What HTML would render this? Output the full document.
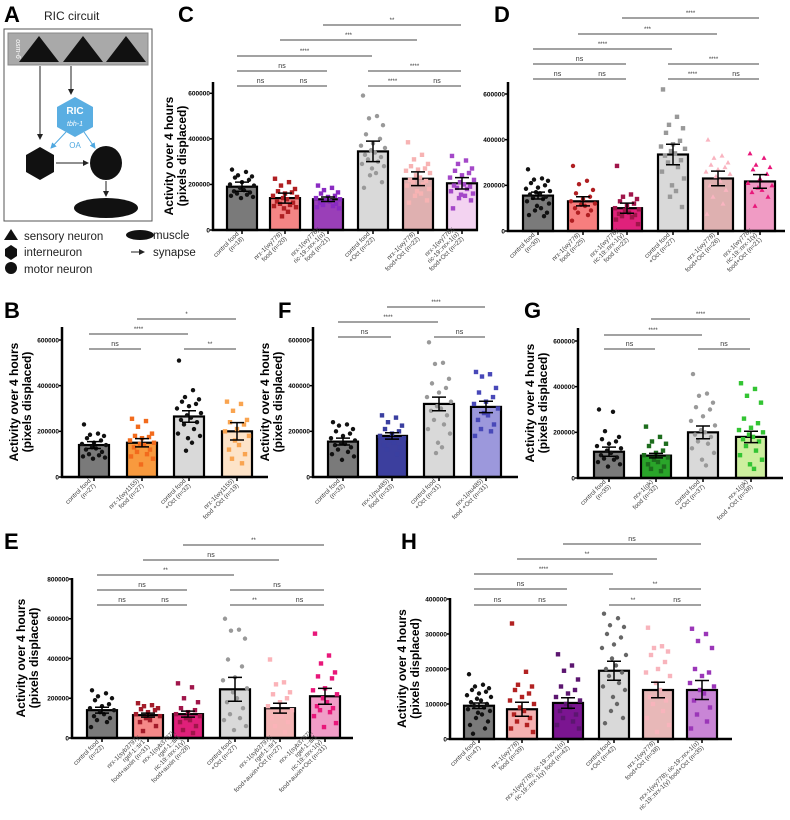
<!DOCTYPE html>
<html><head><meta charset="utf-8">
<style>
html,body{margin:0;padding:0;background:#fff;}
svg{display:block;font-family:"Liberation Sans",sans-serif;}
</style></head>
<body>
<svg id="fig" width="790" height="820" viewBox="0 0 790 820" xmlns="http://www.w3.org/2000/svg">
<g>
  <text x="4" y="22" font-size="22" font-weight="bold">A</text>
  <text x="44" y="20" font-size="12" fill="#222">RIC circuit</text>
  <rect x="4" y="29" width="148" height="192" fill="#fff" stroke="#555" stroke-width="1"/>
  <rect x="8" y="33" width="140" height="32" fill="#a9a9a9" stroke="#888"/>
  <text transform="translate(16,49) rotate(90)" text-anchor="middle" font-size="7" font-style="italic" fill="#fff">osm-6</text>
  <polygon points="19,62 39,36 59,62" fill="#111"/>
  <polygon points="63,62 83,36 103,62" fill="#111"/>
  <polygon points="106,62 126,36 146,62" fill="#111"/>
  <defs>
    <marker id="ab" markerWidth="6" markerHeight="6" refX="5" refY="3" orient="auto"><path d="M0,0 L6,3 L0,6 z" fill="#222"/></marker>
    <marker id="abl" markerWidth="6" markerHeight="6" refX="5" refY="3" orient="auto"><path d="M0,0 L6,3 L0,6 z" fill="#4fa8e0"/></marker>
  </defs>
  <line x1="40" y1="66" x2="40" y2="139" stroke="#222" stroke-width="1" marker-end="url(#ab)"/>
  <line x1="71" y1="66" x2="71" y2="94" stroke="#222" stroke-width="1" marker-end="url(#ab)"/>
  <polygon points="75,97 93,107 93,127 75,137 57,127 57,107" fill="#5aaee2"/>
  <text x="75" y="114" text-anchor="middle" font-size="10" font-weight="bold" fill="#fff">RIC</text>
  <text x="75" y="126" text-anchor="middle" font-size="7" font-style="italic" fill="#fff">tbh-1</text>
  <line x1="66" y1="132" x2="51" y2="148" stroke="#4fa8e0" stroke-width="1" marker-end="url(#abl)"/>
  <line x1="84" y1="132" x2="95" y2="148" stroke="#4fa8e0" stroke-width="1" marker-end="url(#abl)"/>
  <text x="75" y="148" text-anchor="middle" font-size="8" fill="#4fa8e0">OA</text>
  <polygon points="40,147 54,155 54,172 40,180 26,172 26,155" fill="#111"/>
  <ellipse cx="106" cy="163" rx="16" ry="17" fill="#111"/>
  <line x1="56" y1="163" x2="88" y2="163" stroke="#222" stroke-width="1" marker-end="url(#ab)"/>
  <line x1="106" y1="181" x2="106" y2="196" stroke="#222" stroke-width="1" marker-end="url(#ab)"/>
  <ellipse cx="106" cy="208" rx="32" ry="10" fill="#111"/>
  <g font-size="11.5" fill="#222">
    <polygon points="4,240 11,229 18,240" fill="#111"/><text x="24" y="240">sensory neuron</text>
    <polygon points="11,245 17,249 17,256 11,260 5,256 5,249" fill="#111"/><text x="24" y="256">interneuron</text>
    <circle cx="11" cy="268" r="6" fill="#111"/><text x="24" y="273">motor neuron</text>
    <ellipse cx="140" cy="235" rx="14" ry="5" fill="#111"/><text x="153" y="239">muscle</text>
    <line x1="131" y1="252" x2="144" y2="252" stroke="#222" marker-end="url(#ab)"/><text x="153" y="256">synapse</text>
  </g>
</g>
<g id="charts"></g>
</svg>
<script>
// ===== Panel C =====
const cCats=["control food\n(n=18)","nrx-1(wy778)\nfood (n=20)","nrx-1(wy778);\nric-19::nrx-1(α)\nfood (n=21)","control food\n+Oct (n=22)","nrx-1(wy778)\nfood+Oct (n=22)","nrx-1(wy778);\nric-19::nrx-1(α)\nfood+Oct (n=22)"];
const cMeans=[190000,140000,135000,345000,225000,205000];
const cSem=[20000,22000,10000,45000,30000,25000];
const cPoints=[[265,255,240,235,230,220,210,200,195,185,175,170,165,160,155,150,145,140],[225,210,195,180,170,165,160,150,145,140,135,125,120,115,110,105,100,95,80,60],[195,185,175,165,160,150,145,140,135,130,125,120,115,110,105,100,95],[590,500,490,460,420,400,380,370,360,350,340,330,320,310,300,290,280,270,250,240,210,185],[385,330,310,290,280,270,265,260,250,240,230,220,215,210,200,195,180,170,160,150,130,120],[325,305,290,270,260,250,240,230,220,210,200,195,190,185,180,170,160,155,150,140,130,95]];
const cTicks=[0,200000,400000,600000];
// ===== Panel D =====
const dCats=["control food\n(n=30)","nrx-1(wy778)\nfood (n=25)","nrx-1(wy778);\nric-19::nrx-1(γ)\nfood (n=22)","control food\n+Oct (n=27)","nrx-1(wy778)\nfood+Oct (n=26)","nrx-1(wy778);\nric-19::nrx-1(γ)\nfood+Oct (n=21)"];
const dMeans=[155000,130000,100000,335000,230000,217000];
const dSem=[15000,20000,22000,45000,32000,30000];
const dPoints=[[270,230,225,220,210,200,190,185,175,170,165,160,150,145,140,130,120,110,100,90,80,70,65],[285,220,205,180,165,150,140,130,120,115,110,100,90,80,70,45],[285,160,150,140,130,120,110,100,95,90,80,75,70,65,60,50,30],[620,500,465,450,430,395,380,370,360,350,340,330,310,300,280,260,230,200,175,150,105],[400,330,320,300,290,280,270,260,250,240,220,200,180,150,120,75],[340,320,290,280,270,250,230,210,200,190,180,170,150,110]];
const dTicks=[0,200000,400000,600000];
// ===== Panel B =====
const bCats=["control food\n(n=27)","nrx-1(wy1155)\nfood (n=27)","control food\n+Oct (n=32)","nrx-1(wy1155)\nfood +Oct (n=19)"];
const bMeans=[140000,150000,265000,200000];
const bSem=[15000,18000,25000,38000];
const bPoints=[[230,190,185,180,170,160,150,145,140,130,125,120,110,100,95,90,85,80],[255,245,220,190,180,175,170,160,150,145,140,130,120,110,100,90,80,55],[510,380,350,340,330,320,310,300,280,270,260,250,240,230,210,190,180,170,150,115],[330,320,290,250,240,230,210,200,180,160,140,120,100,80,60]];
const bTicks=[0,200000,400000,600000];
// ===== Panel F =====
const fCats=["control food\n(n=32)","nrx-1(nu485)\nfood (n=33)","control food\n+Oct (n=31)","nrx-1(nu485)\nfood +Oct (n=31)"];
const fMeans=[155000,180000,320000,307000];
const fSem=[15000,14000,30000,25000];
const fPoints=[[240,230,225,210,200,190,180,170,160,150,145,140,130,120,110,100,90,75],[270,260,240,225,210,200,190,180,170,160,150,140,130,120,100],[590,500,495,430,410,390,370,350,330,310,300,290,270,250,230,210,190,150,130,105],[460,450,440,390,370,350,330,320,300,280,270,250,230,210,200,180]];
const fTicks=[0,200000,400000,600000];
// ===== Panel G =====
const gCats=["control food\n(n=35)","nrx-1(gk)\nfood (n=32)","control food\n+Oct (n=37)","nrx-1(gk)\nfood +Oct (n=38)"];
const gMeans=[115000,98000,200000,180000];
const gSem=[20000,10000,28000,25000];
const gPoints=[[300,290,205,180,170,160,150,140,130,120,110,100,90,85,80,70,60,50],[225,180,160,150,140,120,110,100,90,80,70,60,50,40,30],[455,370,360,330,310,300,270,250,230,210,200,190,180,160,150,130,110,80,55],[415,390,360,330,260,240,220,210,200,190,180,170,160,140,120,100,80,60,40]];
const gTicks=[0,200000,400000,600000];
// ===== Panel E =====
const eCats=["control food\n(n=22)","nrx-1(syb3797);\nrgef-1::tir1\nfood+auxin (n=31)","nrx-1(syb3797);\nrgef-1::tir1\nric-19::nrx-1(γ)\nfood+auxin (n=28)","control food\n+Oct (n=27)","nrx-1(syb3797);\nrgef-1::tir1\nfood+auxin+Oct (n=27)","nrx-1(syb3797);\nrgef-1::tir1\nric-19::nrx-1(γ)\nfood+auxin+Oct (n=31)"];
const eMeans=[140000,115000,120000,245000,150000,210000];
const eSem=[15000,10000,15000,60000,25000,40000];
const ePoints=[[240,225,210,200,190,170,160,150,140,130,120,110,100,90,80,55],[175,165,160,150,145,140,130,120,110,100,90,80,60,35],[275,255,200,180,150,140,130,120,110,100,90,80,60,40,25],[600,545,540,500,395,360,305,290,250,230,200,180,150,120,100,90,60,40],[395,280,270,230,220,200,180,160,140,120,110,100,80,60,30],[525,415,375,330,310,300,250,240,220,200,180,160,150,140,130,110,75,55]];
const eTicks=[0,200000,400000,600000,800000];
// ===== Panel H =====
const hCats=["control food\n(n=47)","nrx-1(wy778)\nfood (n=39)","nrx-1(wy778); ric-19::nrx-1(α)\nric-19::nrx-1(γ) food (n=42)","control food\n+Oct (n=42)","nrx-1(wy778)\nfood+Oct (n=38)","nrx-1(wy778); ric-19::nrx-1(α)\nric-19::nrx-1(γ) food+Oct (n=35)"];
const hMeans=[95000,85000,103000,195000,140000,140000];
const hSem=[8000,20000,15000,27000,22000,27000];
const hPoints=[[185,155,150,145,140,135,130,125,120,115,110,105,100,95,90,85,80,75,70,60,50,40,30,15],[330,192,155,150,140,130,120,110,100,90,80,70,60,50,40,30,20],[242,210,195,170,150,140,130,120,110,100,90,80,70,60,50,40,30],[358,345,325,320,300,290,270,260,240,230,210,200,190,180,160,150,140,120,100,80,60,45],[318,265,260,250,240,220,200,190,180,160,140,120,110,100,80,60,40,20],[315,300,280,260,200,190,180,160,150,140,130,110,90,70,50,30]];
const hTicks=[0,100000,200000,300000,400000];

const NS="http://www.w3.org/2000/svg";
const root=document.getElementById('charts');
function el(tag,attrs,parent){const e=document.createElementNS(NS,tag);for(const k in attrs)e.setAttribute(k,attrs[k]);(parent||root).appendChild(e);return e;}
const jit=[-10,4,-4,10,-7,7,0,-12,12,-2,2,-8,8,-5,5,-11,11,-1,3,-3,9,-9,6,-6];

function panel(cfg){
  const g=el('g',{});
  
  
  const y=v=>cfg.y0-(v/cfg.max)*(cfg.y0-cfg.yTop);
  const lt=el('text',{x:cfg.lx,y:cfg.ly,'font-size':22,'font-weight':'bold'},g);lt.textContent=cfg.id.toUpperCase();
  
  
  if(!cfg.noTitle){
    const tcY=(cfg.y0+cfg.axTop)/2, tx=cfg.ax-cfg.titleOff;
    const yt=el('text',{transform:`translate(${tx},${tcY}) rotate(-90)`,'text-anchor':'middle','font-size':12,'font-weight':'bold'},g);
    
    
    const t1=el('tspan',{x:0,dy:-2},yt);t1.textContent='Activity over 4 hours';
    const t2=el('tspan',{x:0,dy:13},yt);t2.textContent='(pixels displaced)';
  }
  cfg.means.forEach((m,i)=>{
    const cx=cfg.xs[i];
    const b=el('rect',{x:cx-cfg.bw/2,y:y(m),width:cfg.bw,height:cfg.y0-y(m),fill:cfg.fills[i],stroke:'#000','stroke-width':2.2},g);
    
    
  });
  cfg.pts.forEach((arr,i)=>{
    const cx=cfg.xs[i],col=cfg.pcol[i],sh=cfg.shapes[i];
    arr.forEach((v,j)=>{
      const px=cx+jit[j%jit.length]*cfg.bw/30,py=y(v*1000);
      let p;
      if(sh==='c')p=el('circle',{cx:px,cy:py,r:2.2,fill:col},g);
      else if(sh==='s')p=el('rect',{x:px-2.2,y:py-2.2,width:4.4,height:4.4,fill:col},g);
      else p=el('polygon',{points:`${px-2.5},${py+2} ${px},${py-2.5} ${px+2.5},${py+2}`,fill:col},g);
      
      
    });
  });
  cfg.means.forEach((m,i)=>{
    const cx=cfg.xs[i],s=cfg.sem[i];
    const e=el('path',{d:`M${cx},${y(m+s)}V${y(m-s)}M${cx-7},${y(m+s)}H${cx+7}M${cx-7},${y(m-s)}H${cx+7}`,stroke:'#000','stroke-width':1.5,fill:'none'},g);
    
    
  });
  const ax=el('path',{d:`M${cfg.ax},${cfg.axTop}V${cfg.y0}H${cfg.axR}`,stroke:'#000','stroke-width':2.5,fill:'none'},g);
  
  
  cfg.ticks.forEach(t=>{
    el('line',{x1:cfg.ax-3,x2:cfg.ax,y1:y(t),y2:y(t),stroke:'#000','stroke-width':1.5},g);
    const tl=el('text',{x:cfg.ax-3,y:y(t)+2.3,'text-anchor':'end','font-size':6.5,'font-weight':'bold'},g);
    tl.textContent=String(t);
    
    
  });
  cfg.cats.forEach((c,i)=>{
    const cx=cfg.xs[i];
    el('line',{x1:cx,x2:cx,y1:cfg.y0,y2:cfg.y0+4,stroke:'#000','stroke-width':1.5},g);
    const lines=c.split('\n'),k=lines.length;
    const tg=el('g',{transform:`translate(${cx+2},${cfg.y0+9}) rotate(-45)`},g);
    
    
    lines.forEach((ln,j)=>{const t=el('text',{x:0,y:(j-(k-1))*6.8,'text-anchor':'end','font-size':6.3,fill:'#444'},tg);t.textContent=ln;});
  });
  cfg.sig.forEach(s=>{
    const x1=cfg.xs[s[0]]-5,x2=cfg.xs[s[1]]-1;
    const l=el('line',{x1:x1,x2:x2,y1:s[2],y2:s[2],stroke:'#444','stroke-width':0.9},g);
    
    
    const t=el('text',{x:(x1+x2)/2,y:s[2]-3,'text-anchor':'middle','font-size':s[3]==='ns'?7:6,fill:'#333'},g);
    t.textContent=s[3];
    
    
  });
}
const GR='#7a7a7a',LG='#d9d9d9';
panel({id:'c',lx:178,ly:22,ax:213,axTop:82,axR:478,y0:230,yTop:93.3,max:600000,bw:30,titleOff:38,
 xs:[242,285,328,373,418,462],cats:cCats,means:cMeans,sem:cSem,pts:cPoints,ticks:cTicks,
 fills:[GR,'#f48585','#9a3fb8',LG,'#dfb0b0','#f3d3f1'],pcol:['#111','#b01f22','#8a2bc2','#999','#f7b3b3','#a448c8'],shapes:['c','s','s','c','s','s'],
 sig:[[0,1,86,'ns'],[1,2,86,'ns'],[0,2,71,'ns'],[0,3,56,'****'],[1,4,40,'***'],[2,5,25,'**'],[3,4,86,'****'],[4,5,86,'ns'],[3,5,71,'****']]});
panel({id:'d',lx:494,ly:22,ax:508,axTop:82,axR:785,y0:231,yTop:94,max:600000,bw:30,titleOff:38,noTitle:true,
 xs:[538,583,627,673,718,760],cats:dCats,means:dMeans,sem:dSem,pts:dPoints,ticks:dTicks,
 fills:[GR,'#f77e7e','#e0217b',LG,'#deb0b0','#f09bc4'],pcol:['#111','#b01f22','#a0154a','#999','#f9b4c0','#e8177a'],shapes:['c','c','s','s','t','t'],
 sig:[[0,1,79,'ns'],[1,2,79,'ns'],[0,2,64,'ns'],[0,3,49,'****'],[1,4,34,'***'],[2,5,18,'****'],[3,4,79,'****'],[4,5,79,'ns'],[3,5,64,'****']]});
panel({id:'b',lx:4,ly:318,ax:62,axTop:327,axR:268,y0:477,yTop:340,max:600000,bw:30,titleOff:42,
 xs:[94,142,189,237],cats:bCats,means:bMeans,sem:bSem,pts:bPoints,ticks:bTicks,
 fills:[GR,'#f89a3e',LG,'#fde3c8'],pcol:['#111','#f26b1d','#111','#f9a450'],shapes:['c','s','c','s'],
 sig:[[0,1,349,'ns'],[0,2,334,'****'],[1,3,319,'*'],[2,3,349,'**']]});
panel({id:'f',lx:278,ly:318,ax:313,axTop:327,axR:518,y0:477,yTop:340,max:600000,bw:30,titleOff:42,
 xs:[343,392,439,486],cats:fCats,means:fMeans,sem:fSem,pts:fPoints,ticks:fTicks,
 fills:[GR,'#3c3f9e',LG,'#9c98dc'],pcol:['#111','#3a3fa0','#999','#4848b8'],shapes:['c','s','c','s'],
 sig:[[0,1,337,'ns'],[0,2,322,'****'],[1,3,307,'****'],[2,3,337,'ns']]});
panel({id:'g',lx:524,ly:318,ax:578,axTop:328,axR:783,y0:478,yTop:341,max:600000,bw:30,titleOff:42,
 xs:[609,656,703,751],cats:gCats,means:gMeans,sem:gSem,pts:gPoints,ticks:gTicks,
 fills:[GR,'#2aa52a',LG,'#cdef9f'],pcol:['#111','#1d6d1d','#999','#33c433'],shapes:['c','s','c','s'],
 sig:[[0,1,349,'ns'],[0,2,335,'****'],[1,3,319,'****'],[2,3,349,'ns']]});
panel({id:'e',lx:4,ly:549,ax:72,axTop:578,axR:353,y0:738,yTop:579,max:800000,bw:30,titleOff:45,
 xs:[102,148,188,235,280,325],cats:eCats,means:eMeans,sem:eSem,pts:ePoints,ticks:eTicks,
 fills:[GR,'#f58888','#e0207a',LG,'#f4b5b5','#f19cc7'],pcol:['#111','#a31c2a','#a0154a','#999','#fbb3b8','#e8177a'],shapes:['c','s','s','c','s','s'],
 sig:[[0,1,605,'ns'],[1,2,605,'ns'],[0,2,590,'ns'],[0,3,575,'**'],[1,4,560,'ns'],[2,5,545,'**'],[3,4,605,'**'],[4,5,605,'ns'],[3,5,590,'ns']]});
panel({id:'h',lx:401,ly:549,ax:450,axTop:598,axR:732,y0:739,yTop:599,max:400000,bw:30,titleOff:42,
 xs:[479,522,568,614,658,702],cats:hCats,means:hMeans,sem:hSem,pts:hPoints,ticks:hTicks,
 fills:[GR,'#f5b0b0','#7b1591',LG,'#e8b8b8','#c985d6'],pcol:['#111','#b22222','#5c1670','#666','#f8b4bc','#9b36b8'],shapes:['c','s','s','c','s','s'],
 sig:[[0,1,605,'ns'],[1,2,605,'ns'],[0,2,589,'ns'],[0,3,574,'****'],[1,4,559,'**'],[2,5,544,'ns'],[3,4,605,'**'],[4,5,605,'ns'],[3,5,589,'**']]});
</script>
</body></html>
